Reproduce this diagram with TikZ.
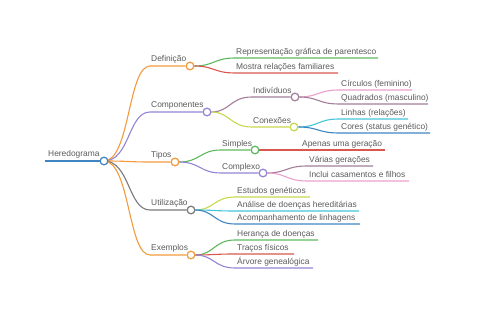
\documentclass[tikz,border=0pt]{standalone}
\usepackage{fontspec}
\setmainfont{Liberation Sans}
\definecolor{cOr}{HTML}{F39A3D}
\definecolor{cPu}{HTML}{9484D4}
\definecolor{cGy}{HTML}{7A7A7A}
\definecolor{cBl}{HTML}{3F85C3}
\definecolor{cGr}{HTML}{5DB85C}
\definecolor{cRd}{HTML}{D9574F}
\definecolor{cPk}{HTML}{EBA0CB}
\definecolor{cMv}{HTML}{A27E98}
\definecolor{cCy}{HTML}{44C4D9}
\definecolor{cYg}{HTML}{C7D84E}
\definecolor{txt}{HTML}{5A5A5A}
\begin{document}
\begin{tikzpicture}[x=1pt,y=-1pt,
  dot/.style={circle,draw=#1,fill=white,line width=1.1pt,inner sep=0pt,minimum size=7.5pt},
  br/.style={draw=#1,line width=1.1pt},
  lbl/.style={anchor=base west,text=txt,font=\fontsize{8.4}{10}\selectfont,inner sep=0pt}]
\useasboundingbox (0,0) rectangle (480,320);
% root
\coordinate (r0) at (45,161);
\node[dot=cBl] (r) at (104,161) {};
\draw[br=cBl] (r0) -- (r.west);
\node[lbl] (rt) at (48,157) {Heredograma};
% level 1
\coordinate (d0) at (150,66);  \node[dot=cOr] (d) at (190,66) {};
\coordinate (c0) at (150,112); \node[dot=cPu] (c) at (207,112) {};
\coordinate (t0) at (150,162); \node[dot=cOr] (t) at (175,162) {};
\coordinate (u0) at (150,210); \node[dot=cGy] (u) at (191,210) {};
\coordinate (e0) at (150,255); \node[dot=cOr] (e) at (191,255) {};
\draw[br=cOr] (r.center) .. controls (130,161) and (128,66) .. (d0) -- (d.west);
\draw[br=cPu] (r.center) .. controls (130,161) and (128,112) .. (c0) -- (c.west);
\draw[br=cOr] (r.center) .. controls (130,161) and (128,162) .. (t0) -- (t.west);
\draw[br=cGy] (r.center) .. controls (130,161) and (128,210) .. (u0) -- (u.west);
\draw[br=cOr] (r.center) .. controls (130,161) and (128,255) .. (e0) -- (e.west);
\node[dot=cBl] at (r) {};
\node[lbl] (dt) at (151,62) {Definição};
\node[lbl] (ct) at (151,108) {Componentes};
\node[lbl] (tt) at (151,158) {Tipos};
\node[lbl] (ut) at (151,206) {Utilização};
\node[lbl] (et) at (151,251) {Exemplos};
% Definicao children
\coordinate (d1a) at (235,58); \coordinate (d1b) at (378,58);
\coordinate (d2a) at (235,73); \coordinate (d2b) at (338,73);
\draw[br=cGr] (d.east) .. controls (214,66) and (214,58) .. (d1a) -- (d1b);
\draw[br=cRd] (d.east) .. controls (214,66) and (214,73) .. (d2a) -- (d2b);
\node[lbl] at (236,54.5) {Representação gráfica de parentesco};
\node[lbl] at (236,69.5) {Mostra relações familiares};
% Componentes children
\coordinate (i0) at (252,97);  \node[dot=cMv] (i) at (295,97) {};
\coordinate (k0) at (252,127); \node[dot=cYg] (k) at (294,127) {};
\draw[br=cMv] (c.east) .. controls (230,112) and (230,97) .. (i0) -- (i.west);
\draw[br=cYg] (c.east) .. controls (230,112) and (230,127) .. (k0) -- (k.west);
\node[dot=cPu] at (c) {};
\node[lbl] at (253,93.5) {Indivíduos};
\node[lbl] at (253,123.5) {Conexões};
% Individuos children
\coordinate (i1a) at (339,90);  \coordinate (i1b) at (412,90);
\coordinate (i2a) at (339,104); \coordinate (i2b) at (428,104);
\draw[br=cPk] (i.east) .. controls (318,97) and (318,90) .. (i1a) -- (i1b);
\draw[br=cMv] (i.east) .. controls (318,97) and (318,104) .. (i2a) -- (i2b);
\node[dot=cMv] at (i) {};
\node[lbl] at (341,86.5) {Círculos (feminino)};
\node[lbl] at (341,100.5) {Quadrados (masculino)};
% Conexoes children
\coordinate (k1a) at (339,119); \coordinate (k1b) at (408,119);
\coordinate (k2a) at (339,133); \coordinate (k2b) at (430,133);
\draw[br=cCy] (k.east) .. controls (318,127) and (318,119) .. (k1a) -- (k1b);
\draw[br=cBl] (k.east) .. controls (318,127) and (318,133) .. (k2a) -- (k2b);
\node[dot=cYg] at (k) {};
\node[lbl] at (341,115.5) {Linhas (relações)};
\node[lbl] at (341,129.5) {Cores (status genético)};
% Tipos children
\coordinate (s0) at (221,150); \node[dot=cGr] (s) at (255,150) {};
\coordinate (x0) at (221,173); \node[dot=cPu] (x) at (263,173) {};
\draw[br=cGr] (t.east) .. controls (200,162) and (200,150) .. (s0) -- (s.west);
\draw[br=cPu] (t.east) .. controls (200,162) and (200,173) .. (x0) -- (x.west);
\node[dot=cOr] at (t) {};
\node[lbl] at (222,146.5) {Simples};
\node[lbl] at (222,169.5) {Complexo};
% Simples child
\coordinate (s1b) at (385,150);
\draw[br=cRd] (s.east) -- (s1b);
\node[dot=cGr] at (s) {};
\node[lbl] at (302,146.5) {Apenas uma geração};
% Complexo children
\coordinate (x1a) at (307,166); \coordinate (x1b) at (373,166);
\coordinate (x2a) at (307,181); \coordinate (x2b) at (409,181);
\draw[br=cMv] (x.east) .. controls (286,173) and (286,166) .. (x1a) -- (x1b);
\draw[br=cPk] (x.east) .. controls (286,173) and (286,181) .. (x2a) -- (x2b);
\node[dot=cPu] at (x) {};
\node[lbl] at (309,162.5) {Várias gerações};
\node[lbl] at (309,177.5) {Inclui casamentos e filhos};
% Utilizacao children
\coordinate (u1a) at (235,197); \coordinate (u1b) at (310,197);
\coordinate (u2a) at (235,211); \coordinate (u2b) at (359,211);
\coordinate (u3a) at (235,224); \coordinate (u3b) at (360,224);
\draw[br=cYg] (u.east) .. controls (214,210) and (214,197) .. (u1a) -- (u1b);
\draw[br=cCy] (u.east) .. controls (214,210) and (214,211) .. (u2a) -- (u2b);
\draw[br=cBl] (u.east) .. controls (214,210) and (214,224) .. (u3a) -- (u3b);
\node[dot=cGy] at (u) {};
\node[lbl] at (237,193.5) {Estudos genéticos};
\node[lbl] at (237,207.5) {Análise de doenças hereditárias};
\node[lbl] at (237,220.5) {Acompanhamento de linhagens};
% Exemplos children
\coordinate (e1a) at (235,240); \coordinate (e1b) at (318,240);
\coordinate (e2a) at (235,254); \coordinate (e2b) at (294,254);
\coordinate (e3a) at (235,268); \coordinate (e3b) at (313,268);
\draw[br=cGr] (e.east) .. controls (214,255) and (214,240) .. (e1a) -- (e1b);
\draw[br=cRd] (e.east) .. controls (214,255) and (214,254) .. (e2a) -- (e2b);
\draw[br=cPu] (e.east) .. controls (214,255) and (214,268) .. (e3a) -- (e3b);
\node[dot=cOr] at (e) {};
\node[lbl] at (237,236.5) {Herança de doenças};
\node[lbl] at (237,250.5) {Traços físicos};
\node[lbl] at (237,264.5) {Árvore genealógica};
\node[dot=cOr] at (d) {};
\end{tikzpicture}
\end{document}
